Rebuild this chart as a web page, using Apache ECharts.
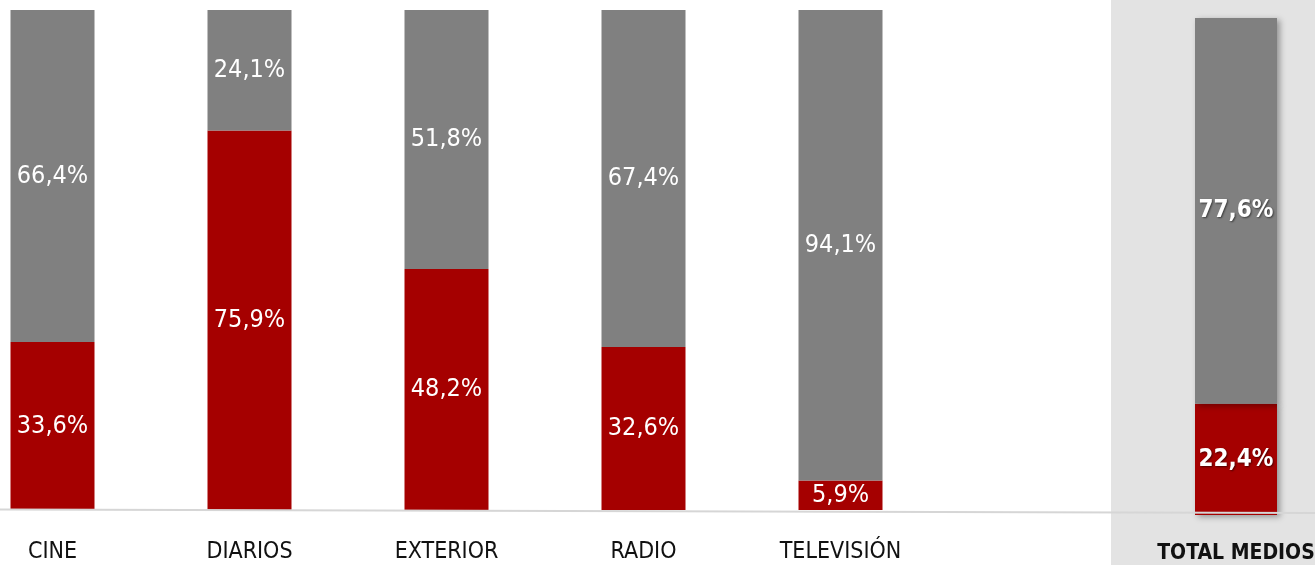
<!DOCTYPE html>
<html><head><meta charset="utf-8">
<script src="https://cdn.jsdelivr.net/npm/echarts@6/dist/echarts.min.js"></script>
<style>html,body{margin:0;padding:0;background:#fff}#c{width:1315px;height:565px}</style>
</head><body><div id="c"></div>
<script>
const categories = ['CINE', 'DIARIOS', 'EXTERIOR', 'RADIO', 'TELEVISIÓN'];
const redValues = [33.6, 75.9, 48.2, 32.6, 5.9];
const grayValues = [66.4, 24.1, 51.8, 67.4, 94.1];
const totalCategory = ['TOTAL MEDIOS'];
const totalRed = [22.4];
const totalGray = [77.6];

const FONT = "'Liberation Sans Narrow','DejaVu Sans Condensed',sans-serif";
const RED = '#a50000', GRAY = '#808080';
const fmt = p => p.value.toFixed(1).replace('.', ',') + '%';

const chart = echarts.init(document.getElementById('c'), null, {renderer: 'canvas'});
const baseLabel = {show: true, position: 'inside', color: '#fff', fontFamily: FONT, fontSize: 25, formatter: fmt};
const totalLabel = Object.assign({}, baseLabel, {fontWeight: 'bold', fontSize: 24, textShadowColor: 'rgba(0,0,0,0.55)', textShadowBlur: 2, textShadowOffsetX: 1, textShadowOffsetY: 1});
const shadow = {shadowColor: 'rgba(0,0,0,0.35)', shadowBlur: 6, shadowOffsetX: 3, shadowOffsetY: 2};

chart.setOption({
  animation: false,
  graphic: [
    {type: 'rect', z: -10, silent: true, shape: {x: 1111, y: 0, width: 204, height: 565}, style: {fill: '#e3e3e3'}},
    {type: 'line', z: 100, silent: true, shape: {x1: 0, y1: 509.5, x2: 1315, y2: 513}, style: {stroke: '#d6d6d6', lineWidth: 2}}
  ],
  grid: [
    {left: -46, width: 985, top: 10, height: 500, outerBoundsMode: 'none', containLabel: false},
    {left: 1195, width: 82, top: 18, height: 497, outerBoundsMode: 'none', containLabel: false}
  ],
  xAxis: [
    {type: 'category', gridIndex: 0, data: categories, axisLine: {show: false}, axisTick: {show: false},
     axisLabel: {color: '#111', fontFamily: FONT, fontSize: 23, margin: 31}},
    {type: 'category', gridIndex: 1, data: totalCategory, axisLine: {show: false}, axisTick: {show: false},
     axisLabel: {color: '#111', fontFamily: FONT, fontSize: 21, fontWeight: 'bold', margin: 28}}
  ],
  yAxis: [
    {type: 'value', gridIndex: 0, min: 0, max: 100, show: false},
    {type: 'value', gridIndex: 1, min: 0, max: 100, show: false}
  ],
  series: [
    {type: 'bar', xAxisIndex: 0, yAxisIndex: 0, stack: 'a', barWidth: 84, data: redValues, itemStyle: {color: RED}, label: baseLabel},
    {type: 'bar', xAxisIndex: 0, yAxisIndex: 0, stack: 'a', barWidth: 84, data: grayValues, itemStyle: {color: GRAY}, label: baseLabel},
    {type: 'bar', xAxisIndex: 1, yAxisIndex: 1, stack: 'b', barWidth: 82, data: totalRed, itemStyle: Object.assign({color: RED}, shadow), label: totalLabel},
    {type: 'bar', xAxisIndex: 1, yAxisIndex: 1, stack: 'b', barWidth: 82, data: totalGray, itemStyle: Object.assign({color: GRAY}, shadow), label: totalLabel}
  ]
});
</script></body></html>
